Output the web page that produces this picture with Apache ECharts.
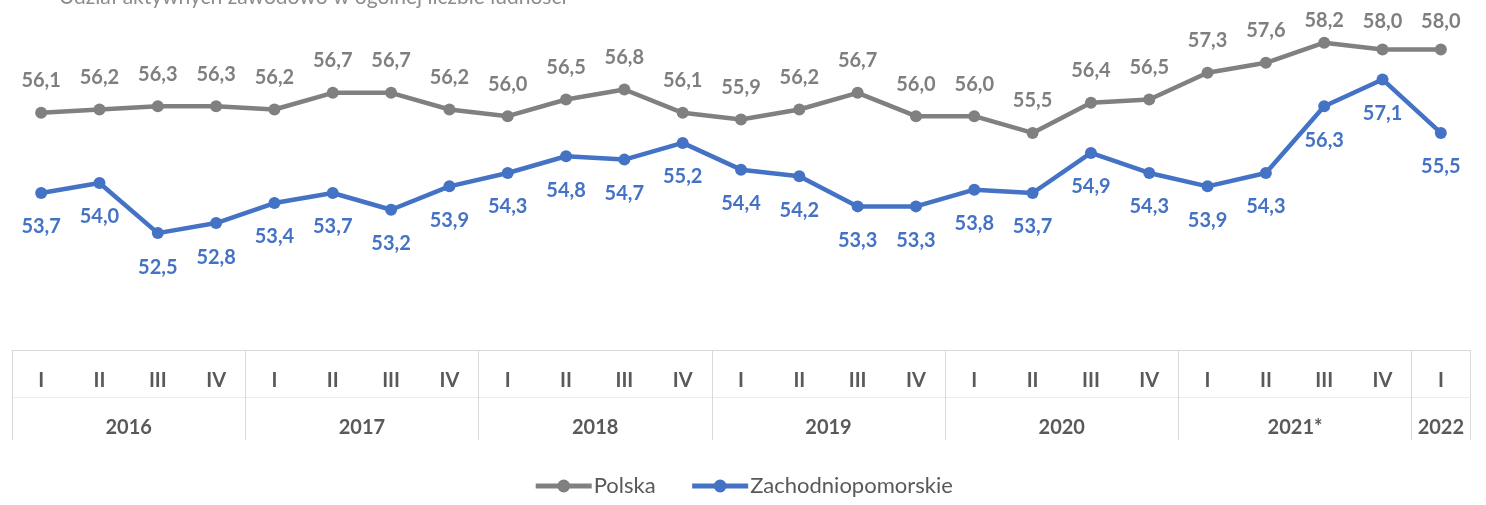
<!DOCTYPE html>
<html>
<head>
<meta charset="utf-8">
<script src="https://cdn.jsdelivr.net/npm/echarts@6/dist/echarts.min.js"></script>
<style>
    html, body { margin: 0; padding: 0; background: #fff; }
    #chart { width: 1486px; height: 505px; }
</style>
</head>
<body>
<div id="chart"></div>
<script>
// dane
const quarters = ['I', 'II', 'III', 'IV', 'I', 'II', 'III', 'IV', 'I', 'II', 'III', 'IV',
    'I', 'II', 'III', 'IV', 'I', 'II', 'III', 'IV', 'I', 'II', 'III', 'IV', 'I'];
const years = ['2016', '2017', '2018', '2019', '2020', '2021*', '2022'];
const quartersPerYear = [4, 4, 4, 4, 4, 4, 1];
const polska = [56.1, 56.2, 56.3, 56.3, 56.2, 56.7, 56.7, 56.2, 56.0, 56.5, 56.8, 56.1,
    55.9, 56.2, 56.7, 56.0, 56.0, 55.5, 56.4, 56.5, 57.3, 57.6, 58.2, 58.0, 58.0];
const zachodniopomorskie = [53.7, 54.0, 52.5, 52.8, 53.4, 53.7, 53.2, 53.9, 54.3, 54.8, 54.7, 55.2,
    54.4, 54.2, 53.3, 53.3, 53.8, 53.7, 54.9, 54.3, 53.9, 54.3, 56.3, 57.1, 55.5];

// granice lat (indeksy kwartalow) i srodki etykiet lat
const yearStarts = [];
const yearCenters = {};
let acc = 0;
quartersPerYear.forEach((n, i) => {
    yearStarts.push(acc);
    yearCenters[(acc + n / 2).toFixed(1)] = years[i];
    acc += n;
});

const fmt = (p) => p.value.toFixed(1).replace('.', ',');
const labelFont = { fontFamily: 'Lato', fontWeight: 'bold', fontSize: 20 };

// etykiety Polski przy gornej krawedzi sa dociagniete blizej punktu
const topLabelDist = { 22: 6, 23: 12, 24: 12 };

const chart = echarts.init(document.getElementById('chart'));
chart.setOption({
    animation: false,
    title: {
        text: 'Udział aktywnych zawodowo w ogólnej liczbie ludności',
        left: 54,
        top: -18,
        textStyle: { fontFamily: 'Lato', fontWeight: 'normal', fontSize: 21, color: '#8c8c8c' }
    },
    grid: { left: 12, right: 16, top: 16, bottom: 155 },
    legend: {
        bottom: 3,
        left: 'center',
        itemWidth: 56,
        itemHeight: 16,
        itemGap: 34,
        lineStyle: { width: 5 },
        textStyle: { fontFamily: 'Lato', fontSize: 22, color: '#595959', padding: [0, 0, 0, -3] },
        data: ['Polska', 'Zachodniopomorskie']
    },
    xAxis: [{
        type: 'category',
        data: quarters,
        position: 'bottom',
        boundaryGap: true,
        axisLine: { show: true, lineStyle: { color: '#d9d9d9', width: 1 } },
        axisTick: {
            show: true,
            length: 90,
            interval: (idx) => yearStarts.indexOf(idx) >= 0,
            lineStyle: { color: '#d9d9d9', width: 1 }
        },
        axisLabel: Object.assign({ color: '#595959', margin: 21, interval: 0 }, labelFont)
    }, {
        type: 'value',
        position: 'bottom',
        offset: 47,
        min: 0,
        max: quarters.length,
        interval: 0.5,
        splitLine: { show: false },
        axisTick: { show: false },
        axisLine: { show: true, onZero: false, lineStyle: { color: '#ececec', width: 1 } },
        axisLabel: Object.assign({
            color: '#595959',
            margin: 21,
            showMinLabel: true,
            showMaxLabel: true,
            formatter: (v) => yearCenters[v.toFixed(1)] || ''
        }, labelFont)
    }],
    yAxis: {
        type: 'value',
        min: 49,
        max: 59,
        show: false,
        splitLine: { show: false }
    },
    series: [{
        name: 'Polska',
        type: 'line',
        xAxisIndex: 0,
        data: polska.map((v, i) => topLabelDist[i] !== undefined
            ? { value: v, label: { distance: topLabelDist[i] } }
            : v),
        color: '#808080',
        symbol: 'circle',
        symbolSize: 12,
        lineStyle: { width: 4.5, color: '#808080' },
        itemStyle: { color: '#808080' },
        label: Object.assign({
            show: true,
            position: 'top',
            distance: 16,
            color: '#7f7f7f',
            formatter: fmt
        }, labelFont),
        z: 2
    }, {
        name: 'Zachodniopomorskie',
        type: 'line',
        xAxisIndex: 0,
        data: zachodniopomorskie,
        color: '#4472c4',
        symbol: 'circle',
        symbolSize: 12,
        lineStyle: { width: 4.5, color: '#4472c4' },
        itemStyle: { color: '#4472c4' },
        label: Object.assign({
            show: true,
            position: 'bottom',
            distance: 18,
            color: '#4472c4',
            formatter: fmt
        }, labelFont),
        z: 3
    }]
});
</script>
</body>
</html>
